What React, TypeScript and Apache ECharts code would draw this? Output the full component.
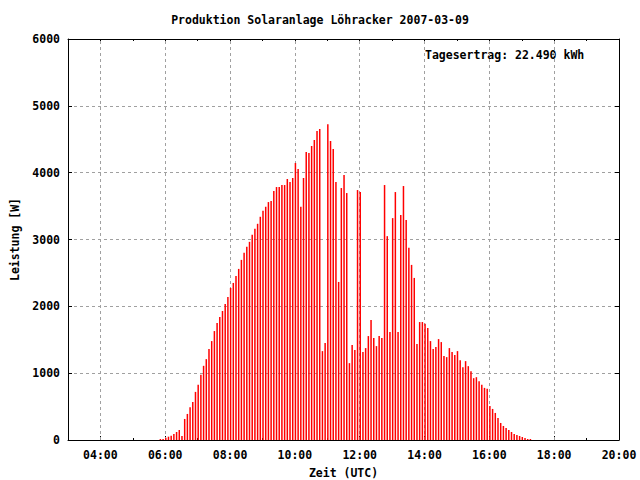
import { useEffect, useRef } from "react";
import * as echarts from "echarts";

const TITLE = "Produktion Solaranlage Löhracker 2007-03-09";
const NOTE = "Tagesertrag: 22.490 kWh";
const X_NAME = "Zeit (UTC)";
const Y_NAME = "Leistung [W]";

// samples every 5 minutes, first one at START_TIME (UTC)
const START_TIME = "05:51";
const STEP_MINUTES = 5;
const POWER_W = [
  15, 15, 35, 50, 65, 90, 120, 150, 60, 315,
  390, 490, 570, 720, 825, 975, 1110, 1210, 1360, 1480,
  1630, 1750, 1840, 1930, 2035, 2140, 2275, 2350, 2455, 2560,
  2695, 2800, 2890, 2965, 3070, 3160, 3235, 3340, 3430, 3490,
  3560, 3575, 3725, 3785, 3785, 3815, 3815, 3905, 3860, 3920,
  4145, 4055, 3490, 3920, 4310, 4295, 4400, 4490, 4625, 4655,
  1330, 1450, 4725, 4475, 4355, 3860, 2365, 3770, 3965, 3695,
  1150, 1420, 1345, 3740, 3710, 1315, 1375, 1555, 1795, 1525,
  1405, 1555, 1525, 3815, 3050, 1615, 3320, 3710, 1615, 3365,
  3800, 3290, 2875, 2620, 2425, 1435, 1765, 1765, 1740, 1675,
  1480, 1360, 1390, 1510, 1465, 1255, 1240, 1375, 1315, 1270,
  1330, 1195, 1090, 1180, 1105, 1030, 925, 940, 880, 825,
  780, 765, 510, 465, 405, 330, 255, 210, 180, 150,
  120, 90, 75, 60, 45, 30, 15, 15,
];

const X_MIN_HOUR = 3;
const X_MAX_HOUR = 20;
const MAJOR_HOURS = [4, 6, 8, 10, 12, 14, 16, 18, 20];
const MINOR_HOURS = [3, 5, 7, 9, 11, 13, 15, 17, 19];
const GRID_HOURS = [4, 6, 8, 10, 12, 14, 16, 18];
const Y_MIN = 0;
const Y_MAX = 6000;
const Y_STEP = 1000;

const FONT = "'DejaVu Sans Mono', 'Liberation Mono', monospace";

function hhmmToHours(s: string): number {
  const [h, m] = s.split(":").map(Number);
  return h + m / 60;
}

function fmtHour(v: number): string {
  const h = Math.round(v);
  return (h < 10 ? "0" : "") + h + ":00";
}

export default function App() {
  const ref = useRef<HTMLDivElement>(null);

  useEffect(() => {
    if (!ref.current) return;
    const chart = echarts.init(ref.current, null, { renderer: "svg" });
    const start = hhmmToHours(START_TIME);
    const data = POWER_W.map((v, i) => [start + (i * STEP_MINUTES) / 60, v]);

    const textBase = {
      fontFamily: FONT,
      fontWeight: "bold" as const,
      fontSize: 11.5,
      color: "#000",
    };
    const gridStyle = { color: "#a0a0a0", width: 1, type: [3, 3] as any };
    const frame = { show: true, lineStyle: { color: "#000", width: 1 } };

    const xBase = {
      type: "value" as const,
      min: X_MIN_HOUR,
      max: X_MAX_HOUR,
      interval: 1,
      splitLine: { show: false },
    };

    chart.setOption({
      animation: false,
      backgroundColor: "#fff",
      title: {
        text: TITLE,
        left: "center",
        top: 9,
        textStyle: { ...textBase },
      },
      grid: {
        left: 68,
        right: 21,
        top: 39,
        bottom: 40,
        containLabel: false,
        outerBoundsMode: "none",
      },
      graphic: [
        {
          type: "text",
          left: 425,
          top: 49,
          style: { text: NOTE, font: `bold 11.5px ${FONT}`, fill: "#000" },
        },
      ],
      xAxis: [
        {
          ...xBase,
          position: "bottom",
          axisLine: frame,
          axisTick: {
            show: true,
            inside: true,
            length: 4,
            customValues: MAJOR_HOURS,
            lineStyle: { color: "#000" },
          },
          axisLabel: {
            ...textBase,
            margin: 9,
            customValues: MAJOR_HOURS,
            formatter: (v: number) => (Math.round(v) % 2 === 0 ? fmtHour(v) : ""),
          },
          name: X_NAME,
          nameLocation: "middle",
          nameGap: 27,
          nameTextStyle: { ...textBase },
        },
        {
          ...xBase,
          position: "bottom",
          axisLine: { show: false },
          axisTick: {
            show: true,
            inside: true,
            length: 2,
            customValues: MINOR_HOURS,
            lineStyle: { color: "#000" },
          },
          axisLabel: { show: false },
        },
        {
          ...xBase,
          position: "top",
          axisLine: frame,
          axisTick: {
            show: true,
            inside: true,
            length: 4,
            customValues: MAJOR_HOURS,
            lineStyle: { color: "#000" },
          },
          axisLabel: { show: false },
        },
        {
          ...xBase,
          position: "top",
          axisLine: { show: false },
          axisTick: {
            show: true,
            inside: true,
            length: 2,
            customValues: MINOR_HOURS,
            lineStyle: { color: "#000" },
          },
          axisLabel: { show: false },
        },
      ],
      yAxis: [
        {
          type: "value",
          min: Y_MIN,
          max: Y_MAX,
          interval: Y_STEP,
          position: "left",
          axisLine: frame,
          axisTick: { show: true, inside: true, length: 4, lineStyle: { color: "#000" } },
          axisLabel: { ...textBase, margin: 8, formatter: (v: number) => String(v) },
          splitLine: { show: true, lineStyle: gridStyle },
          name: Y_NAME,
          nameLocation: "middle",
          nameGap: 42,
          nameRotate: 90,
          nameTextStyle: { ...textBase },
        },
        {
          type: "value",
          min: Y_MIN,
          max: Y_MAX,
          interval: Y_STEP,
          position: "right",
          axisLine: frame,
          axisTick: { show: true, inside: true, length: 4, lineStyle: { color: "#000" } },
          axisLabel: { show: false },
          splitLine: { show: false },
        },
      ],
      series: [
        {
          type: "bar",
          xAxisIndex: 0,
          yAxisIndex: 0,
          data,
          barWidth: 1.5,
          z: 3,
          itemStyle: { color: "#ff0000" },
          silent: true,
          markLine: {
            silent: true,
            z: 1,
            symbol: ["none", "none"],
            label: { show: false },
            lineStyle: gridStyle,
            data: GRID_HOURS.map((h) => ({ xAxis: h })),
          },
        },
      ],
    });

    return () => chart.dispose();
  }, []);

  return (
    <div
      ref={ref}
      style={{ position: "fixed", left: 0, top: 0, width: 640, height: 480 }}
    />
  );
}
